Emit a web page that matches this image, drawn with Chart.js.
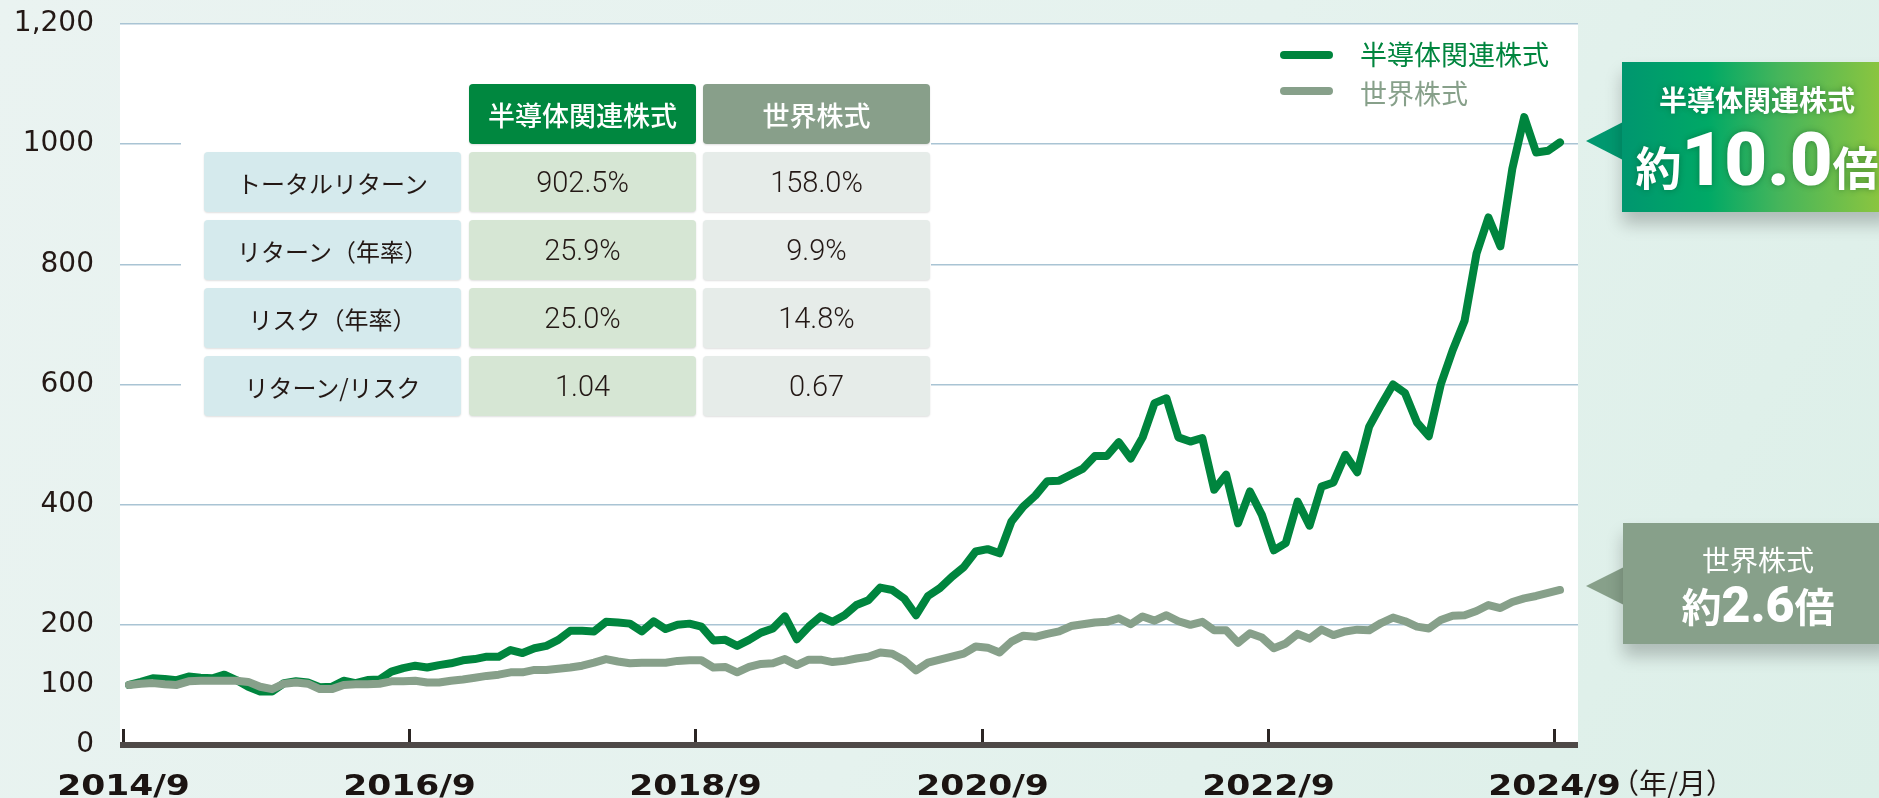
<!DOCTYPE html>
<html lang="ja">
<head>
<meta charset="utf-8">
<script src="https://cdn.jsdelivr.net/npm/chart.js@4.4.1/dist/chart.umd.min.js"></script>
<style>
  html, body { margin: 0; padding: 0; }
  body {
    width: 1879px; height: 798px; overflow: hidden;
    background: linear-gradient(120deg, #eaf3f1 0%, #e5f2ee 55%, #dcefe8 100%);
    font-family: "Noto Sans CJK JP", sans-serif; color: #231815;
  }
  #wrap { position: relative; width: 1879px; height: 798px; }
  #chart { position: absolute; left: 0; top: 0; }
  #panel { position: absolute; left: 181px; top: 74px; width: 750px; height: 352px; background: #fff; }
  .cell {
    position: absolute; display: flex; align-items: center; justify-content: center;
    border-radius: 4px; box-shadow: 0 1px 2px rgba(0,0,0,0.13); white-space: nowrap;
  }
  .hd { color: #fff; font-size: 27px; font-weight: 500; }
  .lbl { background: #d5eaed; font-size: 24px; }
  .val { font-family: Roboto, "Liberation Sans", sans-serif; font-weight: 300; font-size: 29px; }
  .legend { position: absolute; left: 1280px; font-size: 27px; line-height: 27px; white-space: nowrap; }
  .legend i { position: absolute; left: 0; width: 53px; height: 8px; border-radius: 4px; }
  .legend span { position: absolute; left: 80px; }
  .box { position: absolute; width: 270px; box-shadow: 0 12px 16px rgba(0,0,0,0.22); color: #fff; text-align: center; }
  .tip { position: absolute; clip-path: polygon(0 50%, 100% 0, 100% 100%); }
  .box .ttl { position: absolute; left: 0; width: 100%; font-size: 28px; line-height: 28px; }
  .box .big { position: absolute; left: 0; width: 100%; font-family: Roboto, "Liberation Sans", sans-serif; font-weight: 900; white-space: nowrap; }
  .box .big span { font-family: "Noto Sans CJK JP", sans-serif; font-weight: 700; line-height: 0; }
  #unit { position: absolute; left: 1611px; top: 768px; font-size: 28px; line-height: 28px; white-space: nowrap; }
</style>
</head>
<body>
<div id="wrap">
  <canvas id="chart" width="1879" height="798"></canvas>
  <div id="panel"></div>
  <div id="table"></div>
  <div class="legend" style="top:40px"><i style="top:11px;background:#00853e"></i><span style="color:#00853e" id="lg0"></span></div>
  <div class="legend" style="top:79px"><i style="top:8px;background:#87a08a"></i><span style="color:#87a08a" id="lg1"></span></div>

  <div class="tip" style="left:1586px;top:122px;width:37px;height:38px;background:#00986f"></div>
  <div class="box" style="left:1622px;top:62px;height:150px;background:linear-gradient(90deg,#00966f 0%,#00a966 32%,#45b55b 58%,#93c73c 100%)">
    <div class="ttl" id="c0t" style="top:23px;font-weight:700;text-shadow:0 0 6px rgba(0,70,30,0.45)"></div>
    <div class="big" style="top:62px;font-size:74px;line-height:72px;text-shadow:0 0 6px rgba(0,70,30,0.45)"><span style="font-size:46px">約</span><b id="c0v" style="font-weight:900"></b><span style="font-size:46px">倍</span></div>
  </div>

  <div class="tip" style="left:1586px;top:567px;width:38px;height:38px;background:#87a08a"></div>
  <div class="box" style="left:1623px;top:523px;height:121px;background:#87a08a">
    <div class="ttl" id="c1t" style="top:22px;font-weight:400"></div>
    <div class="big" style="top:57px;font-size:50px;line-height:50px"><span style="font-size:40px">約</span><b id="c1v" style="font-weight:900"></b><span style="font-size:40px">倍</span></div>
  </div>

  <div id="unit">（年/月）</div>
</div>
<script>
// 系列名
const seriesNames = ['半導体関連株式', '世界株式'];

// 月次の指数（2014/9 = 100、2014/9 ～ 2024/9）
const semiconductor = [
  100, 105, 111, 110, 108, 114, 112, 111, 117, 108, 97, 89,
  89, 103, 106, 104, 96, 97, 107, 103, 108, 109, 122, 128,
  132, 129, 133, 136, 141, 143, 147, 147, 158, 153, 161, 165,
  175, 190, 190, 189, 205, 204, 202, 189, 206, 193, 200, 202,
  197, 174, 175, 165, 175, 187, 194, 214, 176, 197, 214, 205,
  216, 233, 241, 262, 258, 244, 216, 248, 261, 280, 296, 322,
  326, 319, 372, 397, 415, 439, 440, 450, 460, 481, 481, 504,
  477, 512, 569, 577, 512, 505, 511, 425, 450, 369, 422, 383,
  324, 336, 405, 365, 430, 437, 483, 454, 530, 566, 600, 586,
  537, 514, 600, 657, 706, 818, 878, 830, 959, 1045, 986, 989,
  1003
];
const world = [
  100, 102, 103, 101, 100, 106, 107, 107, 107, 107, 105, 97,
  93, 102, 104, 102, 93, 93, 100, 101, 101, 102, 106, 106,
  107, 104, 104, 107, 109, 112, 115, 117, 121, 121, 125, 125,
  127, 129, 132, 137, 143, 139, 136, 137, 137, 137, 140, 141,
  141, 129, 130, 121, 130, 135, 136, 143, 133, 142, 142, 138,
  140, 144, 147, 154, 152, 141, 124, 137, 142, 147, 152, 164,
  162, 154, 172, 182, 180, 185, 189, 198, 201, 204, 205, 211,
  201, 214, 207, 216, 206, 200, 205, 191, 191, 170, 186, 179,
  161, 169, 185, 177, 192, 183, 189, 192, 191, 203, 212, 206,
  197, 194, 208, 215, 216, 223, 233, 228, 238, 244, 248, 253,
  258
];

// 目盛り
const tickMonths = [0, 24, 48, 72, 96, 120];
const tickLabels = ['2014/9', '2016/9', '2018/9', '2020/9', '2022/9', '2024/9'];
const yTickValues = [0, 100, 200, 400, 600, 800, 1000, 1200];
const yTickLabels = ['0', '100', '200', '400', '600', '800', '1000', '1,200'];

// 表
const statNames = ['トータルリターン', 'リターン（年率）', 'リスク（年率）', 'リターン/リスク'];
const semiStats = ['902.5%', '25.9%', '25.0%', '1.04'];
const worldStats = ['158.0%', '9.9%', '14.8%', '0.67'];
const multiples = ['10.0', '2.6'];

// 表のレイアウト
const colX = [204, 469, 703];
const colW = [257, 227, 227];
const headTop = 84;
const rowTop = [152, 220, 288, 356];
const cellH = 60;

function addCell(cls, x, y, w, text, bg) {
  const d = document.createElement('div');
  d.className = 'cell ' + cls;
  d.style.left = x + 'px';
  d.style.top = y + 'px';
  d.style.width = w + 'px';
  d.style.height = cellH + 'px';
  if (bg) d.style.background = bg;
  d.textContent = text;
  document.getElementById('table').appendChild(d);
}
addCell('hd', colX[1], headTop, colW[1], seriesNames[0], '#00873f');
addCell('hd', colX[2], headTop, colW[2], seriesNames[1], '#889f8a');
statNames.forEach((name, i) => {
  addCell('lbl', colX[0], rowTop[i], colW[0], name);
  addCell('val', colX[1], rowTop[i], colW[1], semiStats[i], '#d6e6d4');
  addCell('val', colX[2], rowTop[i], colW[2], worldStats[i], '#e6ece9');
});
document.getElementById('lg0').textContent = seriesNames[0];
document.getElementById('lg1').textContent = seriesNames[1];
document.getElementById('c0t').textContent = seriesNames[0];
document.getElementById('c1t').textContent = seriesNames[1];
document.getElementById('c0v').textContent = multiples[0];
document.getElementById('c1v').textContent = multiples[1];

// 背景・X軸・目盛りラベル
const frame = {
  id: 'frame',
  beforeDraw(chart) {
    const { ctx, chartArea: a } = chart;
    ctx.save();
    ctx.fillStyle = '#ffffff';
    ctx.fillRect(a.left, a.top, a.right - a.left, a.bottom - a.top);
    ctx.restore();
  },
  afterDraw(chart) {
    const { ctx, chartArea: a, scales: { x } } = chart;
    ctx.save();
    ctx.fillStyle = '#4e4947';
    ctx.fillRect(a.left, a.bottom - 3, a.right - a.left, 6);
    ctx.strokeStyle = '#2b2523';
    ctx.lineWidth = 3;
    tickMonths.forEach((m, i) => {
      // 目盛りは月の始まりに置く
      const px = Math.round(x.getPixelForValue(m - 0.5)) + 0.5;
      ctx.beginPath();
      ctx.moveTo(px, a.bottom - 3);
      ctx.lineTo(px, a.bottom - 16);
      ctx.stroke();
      ctx.save();
      ctx.translate(px, 795);
      ctx.scale(1.19, 1);
      ctx.font = 'bold 29px "DejaVu Sans"';
      ctx.fillStyle = '#1b1412';
      ctx.textAlign = 'center';
      ctx.textBaseline = 'alphabetic';
      ctx.fillText(tickLabels[i], 0, 0);
      ctx.restore();
    });
    ctx.restore();
  }
};

const toPoints = arr => arr.map((v, i) => ({ x: i, y: v }));

const ctx = document.getElementById('chart').getContext('2d');
const chart = new Chart(ctx, {
  type: 'line',
  data: {
    datasets: [
      {
        label: seriesNames[0],
        data: toPoints(semiconductor),
        borderColor: '#00853e',
        borderWidth: 8,
        borderJoinStyle: 'round',
        borderCapStyle: 'round',
        pointRadius: 0,
        tension: 0,
        order: 2
      },
      {
        label: seriesNames[1],
        data: toPoints(world),
        borderColor: '#87a08a',
        borderWidth: 8,
        borderJoinStyle: 'round',
        borderCapStyle: 'round',
        pointRadius: 0,
        tension: 0,
        order: 1
      }
    ]
  },
  options: {
    responsive: false,
    animation: false,
    devicePixelRatio: 1,
    layout: { padding: { top: 24, right: 301, bottom: 0, left: 0 } },
    plugins: { legend: { display: false }, tooltip: { enabled: false } },
    scales: {
      x: {
        type: 'linear',
        min: -0.755,
        max: 121.51,
        ticks: { display: false },
        grid: { display: false },
        border: { display: false },
        afterFit: scale => { scale.height = 53; }
      },
      y: {
        min: 0,
        max: 1200,
        afterBuildTicks: scale => { scale.ticks = yTickValues.map(v => ({ value: v })); },
        ticks: {
          padding: 26,
          color: '#231815',
          font: { family: '"DejaVu Sans"', size: 28, weight: 'normal' },
          callback: v => yTickLabels[yTickValues.indexOf(v)]
        },
        grid: {
          drawTicks: false,
          lineWidth: 1.5,
          color: c => (c.tick && c.tick.value >= 200 ? '#a9c4d4' : 'rgba(0,0,0,0)')
        },
        border: { display: false },
        afterFit: scale => {
          scale.width = 120;
          scale.paddingTop = 0;
          scale.paddingBottom = 0;
        }
      }
    }
  },
  plugins: [frame]
});
</script>
</body>
</html>
